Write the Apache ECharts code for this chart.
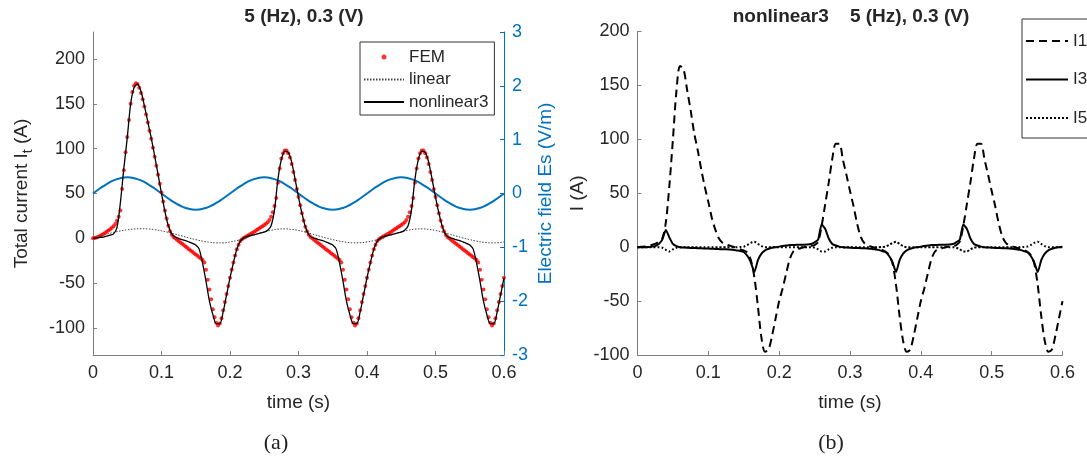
<!DOCTYPE html>
<html>
<head>
<meta charset="utf-8">
<script src="https://cdn.jsdelivr.net/npm/echarts@6/dist/echarts.min.js"></script>
<style>
  html, body { margin: 0; background: #fff; }
  #main { width: 1087px; height: 467px; }
</style>
</head>
<body>
<div id="main"></div>
<script>
// time grids (s)
const t10 = Array.from({ length: 61 }, (_, i) => +(i * 0.01).toFixed(2));
const t5 = Array.from({ length: 121 }, (_, i) => +(i * 0.005).toFixed(3));
const t25 = Array.from({ length: 241 }, (_, i) => +(i * 0.0025).toFixed(4));

const leftTicks = [-100, -50, 0, 50, 100, 150, 200];

// electric field Es (V/m), step 0.01
const esField = [
  0, 0.093, 0.176, 0.243, 0.285, 0.3, 0.285, 0.243, 0.176, 0.093,
  0, -0.093, -0.176, -0.243, -0.285, -0.3, -0.285, -0.243, -0.176, -0.093,
  0, 0.093, 0.176, 0.243, 0.285, 0.3, 0.285, 0.243, 0.176, 0.093,
  0, -0.093, -0.176, -0.243, -0.285, -0.3, -0.285, -0.243, -0.176, -0.093,
  0, 0.093, 0.176, 0.243, 0.285, 0.3, 0.285, 0.243, 0.176, 0.093,
  0, -0.093, -0.176, -0.243, -0.285, -0.3, -0.285, -0.243, -0.176, -0.093,
  0
];

// linear model current (A), step 0.01
const linear = [
  0, 2.3, 4.6, 6.6, 8.3, 9.6, 10.4, 10.7, 10.5, 9.7,
  8.4, 6.7, 4.7, 2.6, 0.5, -1.4, -3.1, -4.3, -5, -5,
  -4, -2.5, -0.5, 2.5, 5, 7.2, 9, 10.3, 10.6, 10,
  8.8, 7, 4.8, 2.6, 0.5, -1.4, -3.1, -4.3, -5, -4.9,
  -4, -2.5, -0.5, 2.5, 5, 7.2, 9, 10.3, 10.6, 10,
  8.8, 7, 4.8, 2.6, 0.5, -1.4, -3.1, -4.3, -5, -4.9,
  -4
];

// nonlinear3 total current (A), step 0.005
const nonlinear3 = [
  0, 0.5, 1, 1.5, 2.5, 3.5, 5, 12, 40, 78,
  112, 150, 168, 172, 164, 148, 130, 112, 92, 71,
  50, 30, 14, 5, 1.5, 0, -1.5, -2.5, -4, -5.5,
  -7.5, -12, -28, -48, -70, -85, -95, -95, -82, -63,
  -44, -27, -12, -3, 0.5, 2, 3, 4, 5, 6,
  7, 9, 14, 32, 66, 88, 97, 96, 85, 66,
  46, 28, 13, 4, 1, 0, -1.5, -2.5, -4, -5.5,
  -7.5, -12, -28, -48, -70, -85, -95, -95, -82, -63,
  -44, -27, -12, -3, 0.5, 2, 3, 4, 5, 6,
  7, 9, 14, 32, 66, 88, 97, 96, 85, 66,
  46, 28, 13, 4, 1, 0, -1.5, -2.5, -4, -5.5,
  -7.5, -12, -28, -48, -70, -85, -95, -95, -82, -63,
  -44
];

// FEM total current (A), step 0.0025
const fem = [
  0, 0.5, 1, 1.8, 2.7, 3.7, 4.8, 6, 7.3, 8.7,
  10.2, 11.8, 13.5, 16, 19.5, 24, 31, 55, 76, 96,
  113, 132, 150, 163, 170, 173, 172, 168, 162, 155,
  147, 138, 129, 120, 111, 101, 91, 81, 71, 61,
  51, 41, 31, 22, 14, 8, 4, 1.5, 0, -1.5,
  -3, -4.5, -6, -7.5, -9, -10.5, -12, -13.5, -15, -16.5,
  -18, -19.5, -21, -22.5, -24, -27, -35, -46, -57, -68,
  -79, -88, -94, -97, -95, -89, -80, -71, -62, -53,
  -44, -35, -27, -19, -12, -7, -3, -1, 0.5, 1.5,
  2.5, 3.7, 4.8, 6, 7.2, 8.5, 9.8, 11, 12.3, 13.6,
  15, 16.4, 18, 20.5, 24, 29, 36, 45, 62, 78,
  89, 95, 98, 98, 95, 90, 83, 74, 65, 55,
  46, 37, 28, 20, 13, 8, 4, 1.5, 0, -1.5,
  -3, -4.5, -6, -7.5, -9, -10.5, -12, -13.5, -15, -16.5,
  -18, -19.5, -21, -22.5, -24, -27, -35, -46, -57, -68,
  -79, -88, -94, -97, -95, -89, -80, -71, -62, -53,
  -44, -35, -27, -19, -12, -7, -3, -1, 0.5, 1.5,
  2.5, 3.7, 4.8, 6, 7.2, 8.5, 9.8, 11, 12.3, 13.6,
  15, 16.4, 18, 20.5, 24, 29, 36, 45, 62, 78,
  89, 95, 98, 98, 95, 90, 83, 74, 65, 55,
  46, 37, 28, 20, 13, 8, 4, 1.5, 0, -1.5,
  -3, -4.5, -6, -7.5, -9, -10.5, -12, -13.5, -15, -16.5,
  -18, -19.5, -21, -22.5, -24, -27, -35, -46, -57, -68,
  -79, -88, -94, -97, -95, -89, -80, -71, -62, -53,
  -44
];

// harmonic components (A), step 0.005
const i1 = [
  0, 0.3, 0.7, 1.2, 2, 3, 5, 8, 23, 57,
  100, 145, 168, 165, 146, 127, 106, 90, 72, 56,
  42, 27, 16, 8, 4, 2.5, 1.5, 0.5, -1, -2,
  -3, -5, -12, -28, -55, -84, -97, -95, -82, -66,
  -50, -38, -24, -11, -4, -2, -1, 0, 0.6, 1.2,
  2, 5, 20, 40, 60, 82, 96, 96, 81, 67,
  52, 38, 22, 10, 4, 1.5, 0.5, -0.5, -1.5, -2.5,
  -4, -7, -15, -35, -64, -87, -97, -95, -82, -66,
  -50, -38, -24, -11, -4, -2, -1, 0, 0.6, 1.2,
  2, 5, 20, 40, 60, 82, 96, 96, 81, 67,
  52, 38, 22, 10, 4, 1.5, 0.5, -0.5, -1.5, -2.5,
  -4, -7, -15, -35, -64, -87, -97, -95, -82, -66,
  -50
];

const i3 = [
  0, 0, 0, 0.2, 0.5, 1, 3, 7, 16, 9,
  3, 1, 0, -0.3, -0.5, -0.7, -0.8, -1, -1, -1.2,
  -1.3, -1.5, -1.6, -1.8, -2, -2, -2.2, -2.5, -3, -3.5,
  -4.5, -8, -14, -23, -12, -6, -3, -1.5, -0.5, 0,
  0.5, 1, 1.5, 2, 2, 2.2, 2.2, 2.3, 2.5, 3,
  4.5, 7, 21, 17, 8, 3, 1.5, 0.5, 0, -0.3,
  -0.5, -0.7, -0.8, -1, -1, -1.2, -1.5, -2, -2.5, -3.5,
  -4.5, -8, -14, -23, -12, -6, -3, -1.5, -0.5, 0,
  0.5, 1, 1.5, 2, 2, 2.2, 2.2, 2.3, 2.5, 3,
  4.5, 7, 21, 17, 8, 3, 1.5, 0.5, 0, -0.3,
  -0.5, -0.7, -0.8, -1, -1, -1.2, -1.5, -2, -2.5, -3.5,
  -4.5, -8, -14, -23, -12, -6, -3, -1.5, -0.5, 0,
  0.5
];

const i5 = [
  0, 0, 0, 0, 0, 0, 0, -0.5, -2.5, -4,
  -2, -0.5, 0, 0, 0, 0, 0, 0, 0, 0,
  0, 0, 0, 0, 0, 0, 0, 0, 0, 0.2,
  0.5, 2, 4, 5, 3, 1, 0, 0, 0, 0,
  0, 0, 0, 0, 0, 0, 0, 0, 0, 0,
  -0.5, -2, -4, -4, -2, -0.5, 0, 0, 0, 0,
  0, 0, 0, 0, 0, 0, 0, 0, 0, 0.2,
  0.5, 2, 4, 5, 3, 1, 0, 0, 0, 0,
  0, 0, 0, 0, 0, 0, 0, 0, 0, 0,
  -0.5, -2, -4, -4, -2, -0.5, 0, 0, 0, 0,
  0, 0, 0, 0, 0, 0, 0, 0, 0, 0.2,
  0.5, 2, 4, 5, 3, 1, 0, 0, 0, 0,
  0
];

const pairs = (ts, vs) => vs.map((v, i) => [ts[i], v]);

const FONT = '"Liberation Sans", Arial, Helvetica, sans-serif';
const TXT = '#262626';
const AX = '#808080';
const BLUE = '#0072BD';
// legend entry for a line: no marker in the middle of the sample
const lineEntry = name => ({ name, itemStyle: { color: 'rgba(0,0,0,0)', borderWidth: 0 } });

function xAxisCfg(gi) {
  return {
    gridIndex: gi, type: 'value', min: 0, max: 0.6, interval: 0.1,
    name: 'time (s)', nameLocation: 'middle', nameGap: 38,
    nameTextStyle: { fontSize: 19, color: TXT, fontFamily: FONT },
    axisLine: { onZero: false, lineStyle: { color: AX } },
    axisTick: { inside: true, length: 4, lineStyle: { color: AX } },
    axisLabel: { color: TXT, fontSize: 18, margin: 9, fontFamily: FONT },
    splitLine: { show: false }
  };
}

const chart = echarts.init(document.getElementById('main'), null, { renderer: 'canvas' });

const option = {
  animation: false,
  backgroundColor: '#fff',
  textStyle: { fontFamily: FONT },
  title: [
    { text: '5 (Hz), 0.3 (V)', left: 304, top: 7, textAlign: 'center', padding: 0,
      textStyle: { fontSize: 19, fontWeight: 'bold', color: TXT, fontFamily: FONT } },
    { text: 'nonlinear3    5 (Hz), 0.3 (V)', left: 851, top: 7, textAlign: 'center', padding: 0,
      textStyle: { fontSize: 19, fontWeight: 'bold', color: TXT, fontFamily: FONT } }
  ],
  grid: [
    { left: 93, right: 583, top: 32, bottom: 112 },
    { left: 637.5, right: 24.5, top: 31.5, bottom: 112 }
  ],
  xAxis: [xAxisCfg(0), xAxisCfg(1)],
  yAxis: [
    {
      gridIndex: 0, type: 'value', min: -130, max: 230, position: 'left',
      name: 'Total current I{sub|t} (A)', nameLocation: 'middle', nameGap: 58,
      nameTextStyle: { fontSize: 19, color: TXT, fontFamily: FONT, lineHeight: 26,
        rich: { sub: { fontSize: 14, lineHeight: 14, verticalAlign: 'bottom', color: TXT, fontFamily: FONT } } },
      axisLine: { show: true, onZero: false, lineStyle: { color: AX } },
      axisTick: { show: true, inside: true, length: 4, lineStyle: { color: AX }, customValues: leftTicks },
      axisLabel: { color: TXT, fontSize: 18, margin: 8, fontFamily: FONT, customValues: leftTicks },
      splitLine: { show: false }
    },
    {
      gridIndex: 0, type: 'value', min: -3, max: 3, interval: 1, position: 'right',
      name: 'Electric field Es (V/m)', nameLocation: 'middle', nameGap: 32,
      nameTextStyle: { fontSize: 19, color: BLUE, fontFamily: FONT },
      axisLine: { show: true, onZero: false, lineStyle: { color: BLUE } },
      axisTick: { show: true, inside: true, length: 4, lineStyle: { color: BLUE } },
      axisLabel: { color: BLUE, fontSize: 18, margin: 8, fontFamily: FONT },
      splitLine: { show: false }
    },
    {
      gridIndex: 1, type: 'value', min: -100, max: 200, interval: 50,
      name: 'I (A)', nameLocation: 'middle', nameGap: 50,
      nameTextStyle: { fontSize: 19, color: TXT, fontFamily: FONT },
      axisLine: { show: true, onZero: false, lineStyle: { color: AX } },
      axisTick: { show: true, inside: true, length: 4, lineStyle: { color: AX } },
      axisLabel: { color: TXT, fontSize: 18, margin: 8, fontFamily: FONT },
      splitLine: { show: false }
    }
  ],
  legend: [
    {
      data: ['FEM', lineEntry('linear'), lineEntry('nonlinear3')],
      orient: 'vertical', left: 360, top: 42,
      itemWidth: 40, itemHeight: 5, itemGap: 2.5,
      padding: [5, 6, 3, 3],
      borderColor: '#333', borderWidth: 1, backgroundColor: '#fff',
      textStyle: { fontSize: 17, color: TXT, lineHeight: 20, fontFamily: FONT },
      selectedMode: false
    },
    {
      data: [lineEntry('I1'), lineEntry('I3'), lineEntry('I5')],
      orient: 'vertical', left: 1022, top: 19,
      itemWidth: 42, itemHeight: 10, itemGap: 18.5,
      padding: [12, 30, 10, 3],
      borderColor: '#333', borderWidth: 1, backgroundColor: '#fff',
      textStyle: { fontSize: 17, color: TXT, lineHeight: 20, fontFamily: FONT },
      selectedMode: false
    }
  ],
  graphic: [
    { type: 'text', x: 276, y: 443,
      style: { text: '(a)', font: '22px "Liberation Serif", "DejaVu Serif", serif', fill: '#222', align: 'center', verticalAlign: 'middle' } },
    { type: 'text', x: 831, y: 443,
      style: { text: '(b)', font: '22px "Liberation Serif", "DejaVu Serif", serif', fill: '#222', align: 'center', verticalAlign: 'middle' } }
  ],
  series: [
    {
      name: 'Es', type: 'line', xAxisIndex: 0, yAxisIndex: 1,
      data: pairs(t10, esField), smooth: true, showSymbol: false, z: 1,
      lineStyle: { color: BLUE, width: 2 }, itemStyle: { color: BLUE }
    },
    {
      name: 'FEM', type: 'scatter', xAxisIndex: 0, yAxisIndex: 0,
      data: pairs(t25, fem), symbol: 'circle', symbolSize: 4, z: 2,
      itemStyle: { color: '#ff0000' }
    },
    {
      name: 'linear', type: 'line', xAxisIndex: 0, yAxisIndex: 0,
      data: pairs(t10, linear), smooth: true, showSymbol: false, symbol: 'none', z: 3,
      lineStyle: { color: '#444', width: 1, type: [1.5, 1.5] }, itemStyle: { color: '#444' }
    },
    {
      name: 'nonlinear3', type: 'line', xAxisIndex: 0, yAxisIndex: 0,
      data: pairs(t5, nonlinear3), smooth: 0.3, showSymbol: false, symbol: 'none', z: 4,
      lineStyle: { color: '#000', width: 1.3 }, itemStyle: { color: '#000' }
    },
    {
      name: 'I1', type: 'line', xAxisIndex: 1, yAxisIndex: 2,
      data: pairs(t5, i1), smooth: 0.3, showSymbol: false, symbol: 'none',
      lineStyle: { color: '#000', width: 2, type: [8, 5] }, itemStyle: { color: '#000' }
    },
    {
      name: 'I3', type: 'line', xAxisIndex: 1, yAxisIndex: 2,
      data: pairs(t5, i3), smooth: 0.2, showSymbol: false, symbol: 'none',
      lineStyle: { color: '#000', width: 2 }, itemStyle: { color: '#000' }
    },
    {
      name: 'I5', type: 'line', xAxisIndex: 1, yAxisIndex: 2,
      data: pairs(t5, i5), smooth: 0.2, showSymbol: false, symbol: 'none',
      lineStyle: { color: '#000', width: 2, type: [2, 2] }, itemStyle: { color: '#000' }
    }
  ]
};

chart.setOption(option);
</script>
</body>
</html>
